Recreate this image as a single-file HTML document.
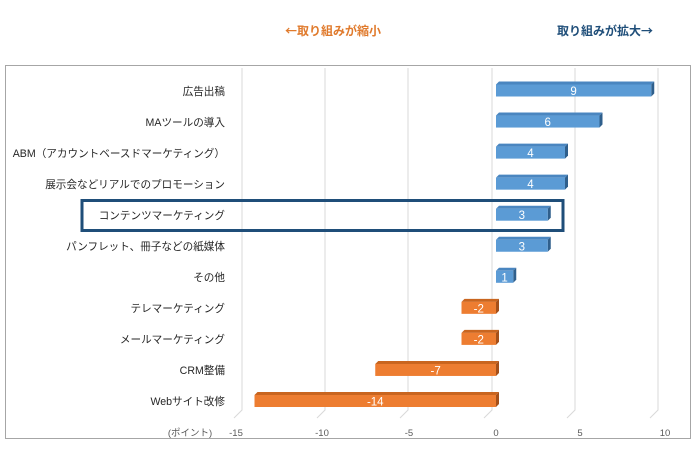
<!DOCTYPE html>
<html><head><meta charset="utf-8"><style>
body{margin:0;width:698px;height:447px;background:#fff;overflow:hidden;font-family:"Liberation Sans","Noto Sans CJK JP",sans-serif}
</style></head><body>
<svg width="698" height="447" xmlns="http://www.w3.org/2000/svg" font-family="Liberation Sans, Noto Sans CJK JP, sans-serif">
<text x="285" y="35" font-size="12" font-weight="bold" fill="#e07a2c" font-family="Noto Sans CJK JP, sans-serif">←取り組みが縮小</text>
<text x="557" y="35" font-size="12" font-weight="bold" fill="#1f4e79" font-family="Noto Sans CJK JP, sans-serif">取り組みが拡大→</text>
<rect x="5.5" y="65.5" width="685" height="373" fill="none" stroke="#a6a6a6" stroke-width="1"/>
<g stroke="#d9d9d9" stroke-width="1" fill="none">
<path d="M242 68V410L234 418"/><path d="M325 68V410L317 418"/><path d="M408 68V410L400 418"/>
<path d="M492 68V410L484 418"/><path d="M575 68V410L567 418"/><path d="M658 68V410L650 418"/>
</g>
<g font-size="9.5" fill="#595959" text-anchor="middle">
<text x="236" y="436">-15</text><text x="322" y="436">-10</text><text x="409" y="436">-5</text>
<text x="496" y="436">0</text><text x="580" y="436">5</text><text x="665" y="436">10</text>
<text x="190" y="436">(ポイント)</text>
</g>
<g font-size="10.6" fill="#262626" text-anchor="end">
<text x="225" y="95">広告出稿</text>
<text x="225" y="126">MAツールの導入</text>
<text x="225" y="157">ABM（アカウントベースドマーケティング）</text>
<text x="225" y="188">展示会などリアルでのプロモーション</text>
<text x="225" y="219">コンテンツマーケティング</text>
<text x="225" y="250">パンフレット、冊子などの紙媒体</text>
<text x="225" y="281">その他</text>
<text x="225" y="312">テレマーケティング</text>
<text x="225" y="343">メールマーケティング</text>
<text x="225" y="374">CRM整備</text>
<text x="225" y="405">Webサイト改修</text>
</g>
<g id="bars" font-size="11.5" fill="#fff" text-anchor="middle"></g>
<rect x="82" y="200.5" width="481" height="30" fill="none" stroke="#1f4e79" stroke-width="3"/>
</svg>
<script>
var vals=[9,6,4,4,3,3,1,-2,-2,-7,-14];
var g=document.getElementById('bars'),s="";
vals.forEach(function(v,i){
 var cy=90.5+i*31.05, x0=496, x1=496+v*17.25, a=Math.min(x0,x1), b=Math.max(x0,x1);
 var pos=v>0, face=pos?"#5b9bd5":"#ed7d31", top=pos?"#4a86c0":"#c9651f", side=pos?"#2f5f8c":"#a4501a";
 var yt=cy-6, yb=cy+6;
 s+='<polygon points="'+a+','+yt+' '+(a+3)+','+(yt-3)+' '+(b+3)+','+(yt-3)+' '+b+','+yt+'" fill="'+top+'"/>';
 s+='<polygon points="'+b+','+yt+' '+(b+3)+','+(yt-3)+' '+(b+3)+','+(yb-3)+' '+b+','+yb+'" fill="'+side+'"/>';
 s+='<rect x="'+a+'" y="'+yt+'" width="'+(b-a)+'" height="12" fill="'+face+'"/>';
 s+='<text x="'+((a+b)/2)+'" y="'+(cy+4.5)+'">'+v+'</text>';
});
g.innerHTML=s;
</script>
</body></html>
